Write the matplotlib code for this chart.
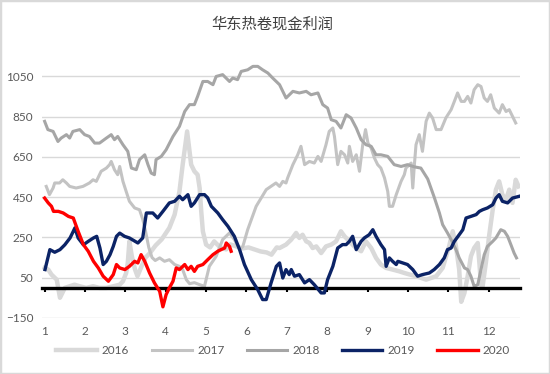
import matplotlib
matplotlib.use("Agg")
import matplotlib.pyplot as plt
from matplotlib.patches import Rectangle

plt.rcParams['font.family'] = ['Lato', 'Noto Sans CJK SC', 'DejaVu Sans']

# x positions are in months (1 = start of Jan, 13 = start of next Jan)
m2016 = [1.00, 1.09, 1.17, 1.30, 1.38, 1.50, 1.62, 1.74, 1.87, 2.03, 2.20, 2.36, 2.53, 2.70, 2.86, 2.94, 3.02, 3.06,
         3.10, 3.16, 3.24, 3.30, 3.40, 3.50, 3.60, 3.75, 3.90, 4.00, 4.09, 4.22, 4.34, 4.42, 4.53, 4.63, 4.71, 4.79,
         4.84, 4.88, 4.92, 5.00, 5.10, 5.20, 5.35, 5.50, 5.60, 5.75, 5.90, 6.05, 6.20, 6.35, 6.50, 6.62, 6.75, 6.82,
         6.98, 7.11, 7.23, 7.31, 7.39, 7.48, 7.56, 7.64, 7.73, 7.85, 7.97, 8.10, 8.22, 8.34, 8.43, 8.55, 8.67, 8.84,
         8.96, 9.09, 9.21, 9.33, 9.46, 9.62, 9.79, 9.91, 10.05, 10.20, 10.45, 10.70, 10.86, 11.02, 11.11, 11.19,
         11.27, 11.32, 11.40, 11.48, 11.56, 11.64, 11.73, 11.77, 11.81, 11.85, 11.93, 12.01, 12.10, 12.18, 12.26,
         12.34, 12.43, 12.51, 12.59, 12.67, 12.74]
v2016 = [98, 90, 65, 40, -50, -1, 7, 15, 7, -1, 7, -1, -1, 7, 15, 32, 73, 123,
         230, 156, 90, 57, 106, 150, 170, 210, 240, 270, 297, 363, 478, 611, 776, 611, 578, 561,
         495, 379, 280, 214, 200, 230, 200, 190, 215, 205, 195, 200, 190, 180, 175, 164, 200, 197,
         214, 239, 272, 247, 263, 230, 222, 197, 205, 172, 205, 214, 230, 280, 255, 230, 205, 181,
         230, 197, 148, 115, 98, 90, 81, 73, 65, 57, 40, 57, 98, 205, 280, 205,
         90, -70, -26, 57, 156, 197, 222, 123, 15, 7, 123, 255, 387, 487, 528,
         462, 437, 487, 421, 536, 503]

m2017 = [1.04, 1.12, 1.21, 1.25, 1.37, 1.45, 1.54, 1.62, 1.78, 1.95, 2.11, 2.20, 2.28, 2.40, 2.53, 2.61, 2.65, 2.73,
         2.81, 2.86, 2.94, 3.02, 3.10, 3.23, 3.35, 3.43, 3.50, 3.58, 3.66, 3.74, 3.85, 3.97, 4.09, 4.22, 4.34, 4.42,
         4.51, 4.59, 4.71, 4.84, 4.96, 5.08, 5.25, 5.41, 5.58, 5.70, 5.83, 5.91, 6.03, 6.24, 6.49, 6.73, 6.82, 6.90,
         6.98, 7.02, 7.15, 7.27, 7.35, 7.44, 7.56, 7.68, 7.77, 7.85, 7.97, 8.05, 8.14, 8.18, 8.26, 8.34, 8.43, 8.51,
         8.55, 8.63, 8.72, 8.80, 8.88, 8.95, 9.01, 9.09, 9.17, 9.25, 9.33, 9.42, 9.50, 9.54, 9.62, 9.71, 9.83, 9.91,
         9.95, 10.08, 10.12, 10.16, 10.20, 10.28, 10.36, 10.45, 10.53, 10.61, 10.70, 10.82, 10.94, 11.07, 11.15,
         11.23, 11.32, 11.40, 11.48, 11.56, 11.64, 11.73, 11.81, 11.89, 11.97, 12.05, 12.14, 12.26, 12.34, 12.43,
         12.51, 12.59, 12.67]
v2017 = [503, 462, 495, 520, 520, 536, 520, 503, 495, 503, 520, 536, 528, 578, 594, 611, 627, 586,
         561, 602, 528, 478, 429, 396, 387, 340, 280, 200, 150, 135, 148, 131, 139, 115, 106, 90,
         40, 20, 25, 15, 7, 106, 156, 239, 272, 239, 189, 205, 288, 404, 487, 520, 503, 528,
         520, 545, 611, 660, 702, 611, 627, 619, 652, 627, 710, 776, 793, 751, 611, 677, 660, 619,
         702, 627, 660, 578, 710, 785, 718, 693, 644, 611, 594, 545, 478, 404, 404, 462, 528, 561,
         594, 619, 495, 611, 710, 760, 677, 826, 867, 843, 785, 785, 843, 884, 925,
         967, 925, 925, 950, 917, 983, 1008, 999, 942, 925, 958, 892, 867, 909, 875,
         884, 851, 818]

m2018 = [1.00, 1.08, 1.21, 1.33, 1.41, 1.54, 1.62, 1.70, 1.87, 1.99, 2.11, 2.24, 2.36, 2.53, 2.65, 2.73, 2.81, 2.94,
         3.06, 3.15, 3.27, 3.35, 3.48, 3.56, 3.64, 3.72, 3.76, 3.89, 4.01, 4.18, 4.34, 4.47, 4.59, 4.71, 4.79, 4.92,
         5.04, 5.17, 5.25, 5.41, 5.58, 5.66, 5.78, 5.87, 6.03, 6.16, 6.28, 6.40, 6.53, 6.65, 6.82, 6.98, 7.15, 7.31,
         7.48, 7.60, 7.77, 7.89, 8.01, 8.10, 8.22, 8.34, 8.47, 8.59, 8.72, 8.84, 8.96, 9.09, 9.21, 9.33, 9.50, 9.66,
         9.83, 9.99, 10.16, 10.32, 10.49, 10.65, 10.78, 10.86, 10.98, 11.07, 11.19, 11.27, 11.40, 11.48, 11.56,
         11.64, 11.73, 11.81, 11.89, 11.97, 12.10, 12.18, 12.30, 12.39, 12.47, 12.55, 12.63, 12.69]
v2018 = [826, 785, 776, 726, 743, 760, 743, 776, 785, 760, 751, 718, 718, 743, 760, 735, 751, 710,
         677, 594, 586, 636, 660, 611, 569, 561, 636, 652, 685, 751, 801, 875, 909, 909, 950, 1024,
         1024, 1008, 1049, 1058, 1024, 1041, 1033, 1074, 1082, 1099, 1099, 1082, 1066, 1041, 1008, 942, 975, 967,
         975, 958, 967, 909, 892, 834, 826, 793, 859, 843, 793, 735, 710, 702, 660, 660, 652, 611,
         602, 611, 600, 594, 540, 450, 371, 313, 272, 239, 189, 148, 98, 90, 57,
         7, 15, 90, 164, 205, 230, 247, 288, 280, 255, 214, 172, 148]

m2019 = [1.01, 1.13, 1.25, 1.38, 1.50, 1.63, 1.71, 1.75, 1.83, 1.96, 2.08, 2.21, 2.29, 2.37, 2.45, 2.53, 2.62, 2.70,
         2.78, 2.86, 2.98, 3.10, 3.31, 3.43, 3.52, 3.68, 3.80, 3.93, 4.09, 4.22, 4.34, 4.42, 4.55, 4.63, 4.71, 4.84,
         4.96, 5.04, 5.13, 5.29, 5.41, 5.54, 5.70, 5.83, 5.95, 6.12, 6.28, 6.40, 6.49, 6.61, 6.74, 6.82, 6.90, 6.98,
         7.06, 7.11, 7.19, 7.31, 7.44, 7.56, 7.68, 7.85, 7.93, 8.01, 8.14, 8.26, 8.38, 8.47, 8.55, 8.63, 8.72, 8.84,
         8.92, 9.04, 9.13, 9.21, 9.33, 9.42, 9.46, 9.54, 9.62, 9.71, 9.75, 9.87, 9.99, 10.12, 10.24, 10.36, 10.53,
         10.65, 10.78, 10.90, 10.98, 11.07, 11.15, 11.27, 11.36, 11.44, 11.56, 11.69, 11.77, 11.85, 11.97, 12.10,
         12.18, 12.26, 12.34, 12.47, 12.59, 12.76]
v2019 = [90, 189, 176, 189, 213, 247, 280, 297, 247, 213, 230, 247, 255, 197, 115, 131, 164, 205,
         255, 271, 255, 247, 222, 247, 371, 371, 346, 379, 421, 429, 454, 437, 462, 404, 421, 462,
         462, 446, 404, 371, 338, 305, 255, 189, 115, 40, -10, -59, -59, 24, 106, 123, 48, 90,
         65, 90, 57, 65, 24, 40, 15, -26, -26, 40, 106, 197, 214, 214, 230, 255, 189, 230,
         247, 263, 288, 255, 214, 189, 106, 148, 131, 115, 131, 123, 115, 90, 57, 65, 73,
         90, 115, 148, 189, 197, 230, 263, 288, 346, 354, 363, 379, 387, 396, 412,
         445, 462, 429, 421, 445, 454]

m2020 = [1.00, 1.09, 1.17, 1.22, 1.34, 1.46, 1.59, 1.71, 1.83, 1.96, 2.08, 2.21, 2.33, 2.45, 2.58, 2.70, 2.78, 2.86,
         2.99, 3.10, 3.23, 3.31, 3.39, 3.48, 3.60, 3.72, 3.85, 3.93, 4.01, 4.09, 4.18, 4.26, 4.34, 4.47, 4.55, 4.63,
         4.71, 4.79, 4.92, 5.04, 5.17, 5.29, 5.37, 5.46, 5.50, 5.58, 5.62]
v2020 = [445, 421, 404, 379, 379, 371, 354, 346, 280, 214, 181, 131, 98, 57, 32, 65, 115, 98,
         90, 106, 131, 123, 164, 131, 73, 24, -18, -95, -34, -1, 32, 98, 90, 115, 90, 106,
         81, 106, 115, 139, 164, 181, 189, 197, 222, 205, 181]

series = [
    ('2016', m2016, v2016, '#d9d9d9', 3.2, 2),
    ('2017', m2017, v2017, '#c3c3c3', 2.2, 2.1),
    ('2018', m2018, v2018, '#a6a6a6', 2.2, 2.2),
    ('2019', m2019, v2019, '#0b2366', 2.4, 3),
    ('2020', m2020, v2020, '#ff0000', 2.4, 3.1),
]

fig = plt.figure(figsize=(5.5, 3.74), dpi=100)
ax = fig.add_axes([0.076, 0.150, 0.869, 0.700])

for name, xs, ys, color, lw, z in series:
    ax.plot(xs, ys, color=color, lw=lw, label=name, zorder=z, solid_joinstyle='round')

ax.set_xlim(0.93, 12.77)
ax.set_ylim(-150, 1150)
ax.set_yticks(range(-150, 1051, 200))
ax.grid(axis='y', color='#d9d9d9', lw=1)
ax.set_axisbelow(True)

for side in ['top', 'right', 'left']:
    ax.spines[side].set_visible(False)
ax.spines['bottom'].set_position(('data', 0))
ax.spines['bottom'].set_color('black')
ax.spines['bottom'].set_linewidth(2.4)
ax.spines['bottom'].set_zorder(2.5)
ax.set_xticks(range(1, 13))
ax.tick_params(axis='x', direction='out', length=3, width=1.5, color='black', labelbottom=False)
ax.tick_params(axis='y', length=0, labelsize=8.5, labelcolor='#595959', pad=6)

sec = ax.secondary_xaxis('bottom')
sec.set_xticks(range(1, 13))
sec.tick_params(length=0, labelsize=8.5, labelcolor='#595959', pad=6)
sec.spines['bottom'].set_visible(False)

fig.text(0.495, 0.935, '华东热卷现金利润', ha='center', va='center', fontsize=11, color='#404040')

leg = fig.legend(loc='lower center', bbox_to_anchor=(0.515, 0.02), ncol=5, frameon=False,
                 fontsize=8.5, handlelength=3.4, columnspacing=1.9, handletextpad=0.45)
for t in leg.get_texts():
    t.set_color('#595959')

fig.patches.append(Rectangle((0, 0), 1, 1, transform=fig.transFigure, fill=False,
                             edgecolor='#d9d9d9', lw=2.5))

fig.savefig('out.png', dpi=100)
